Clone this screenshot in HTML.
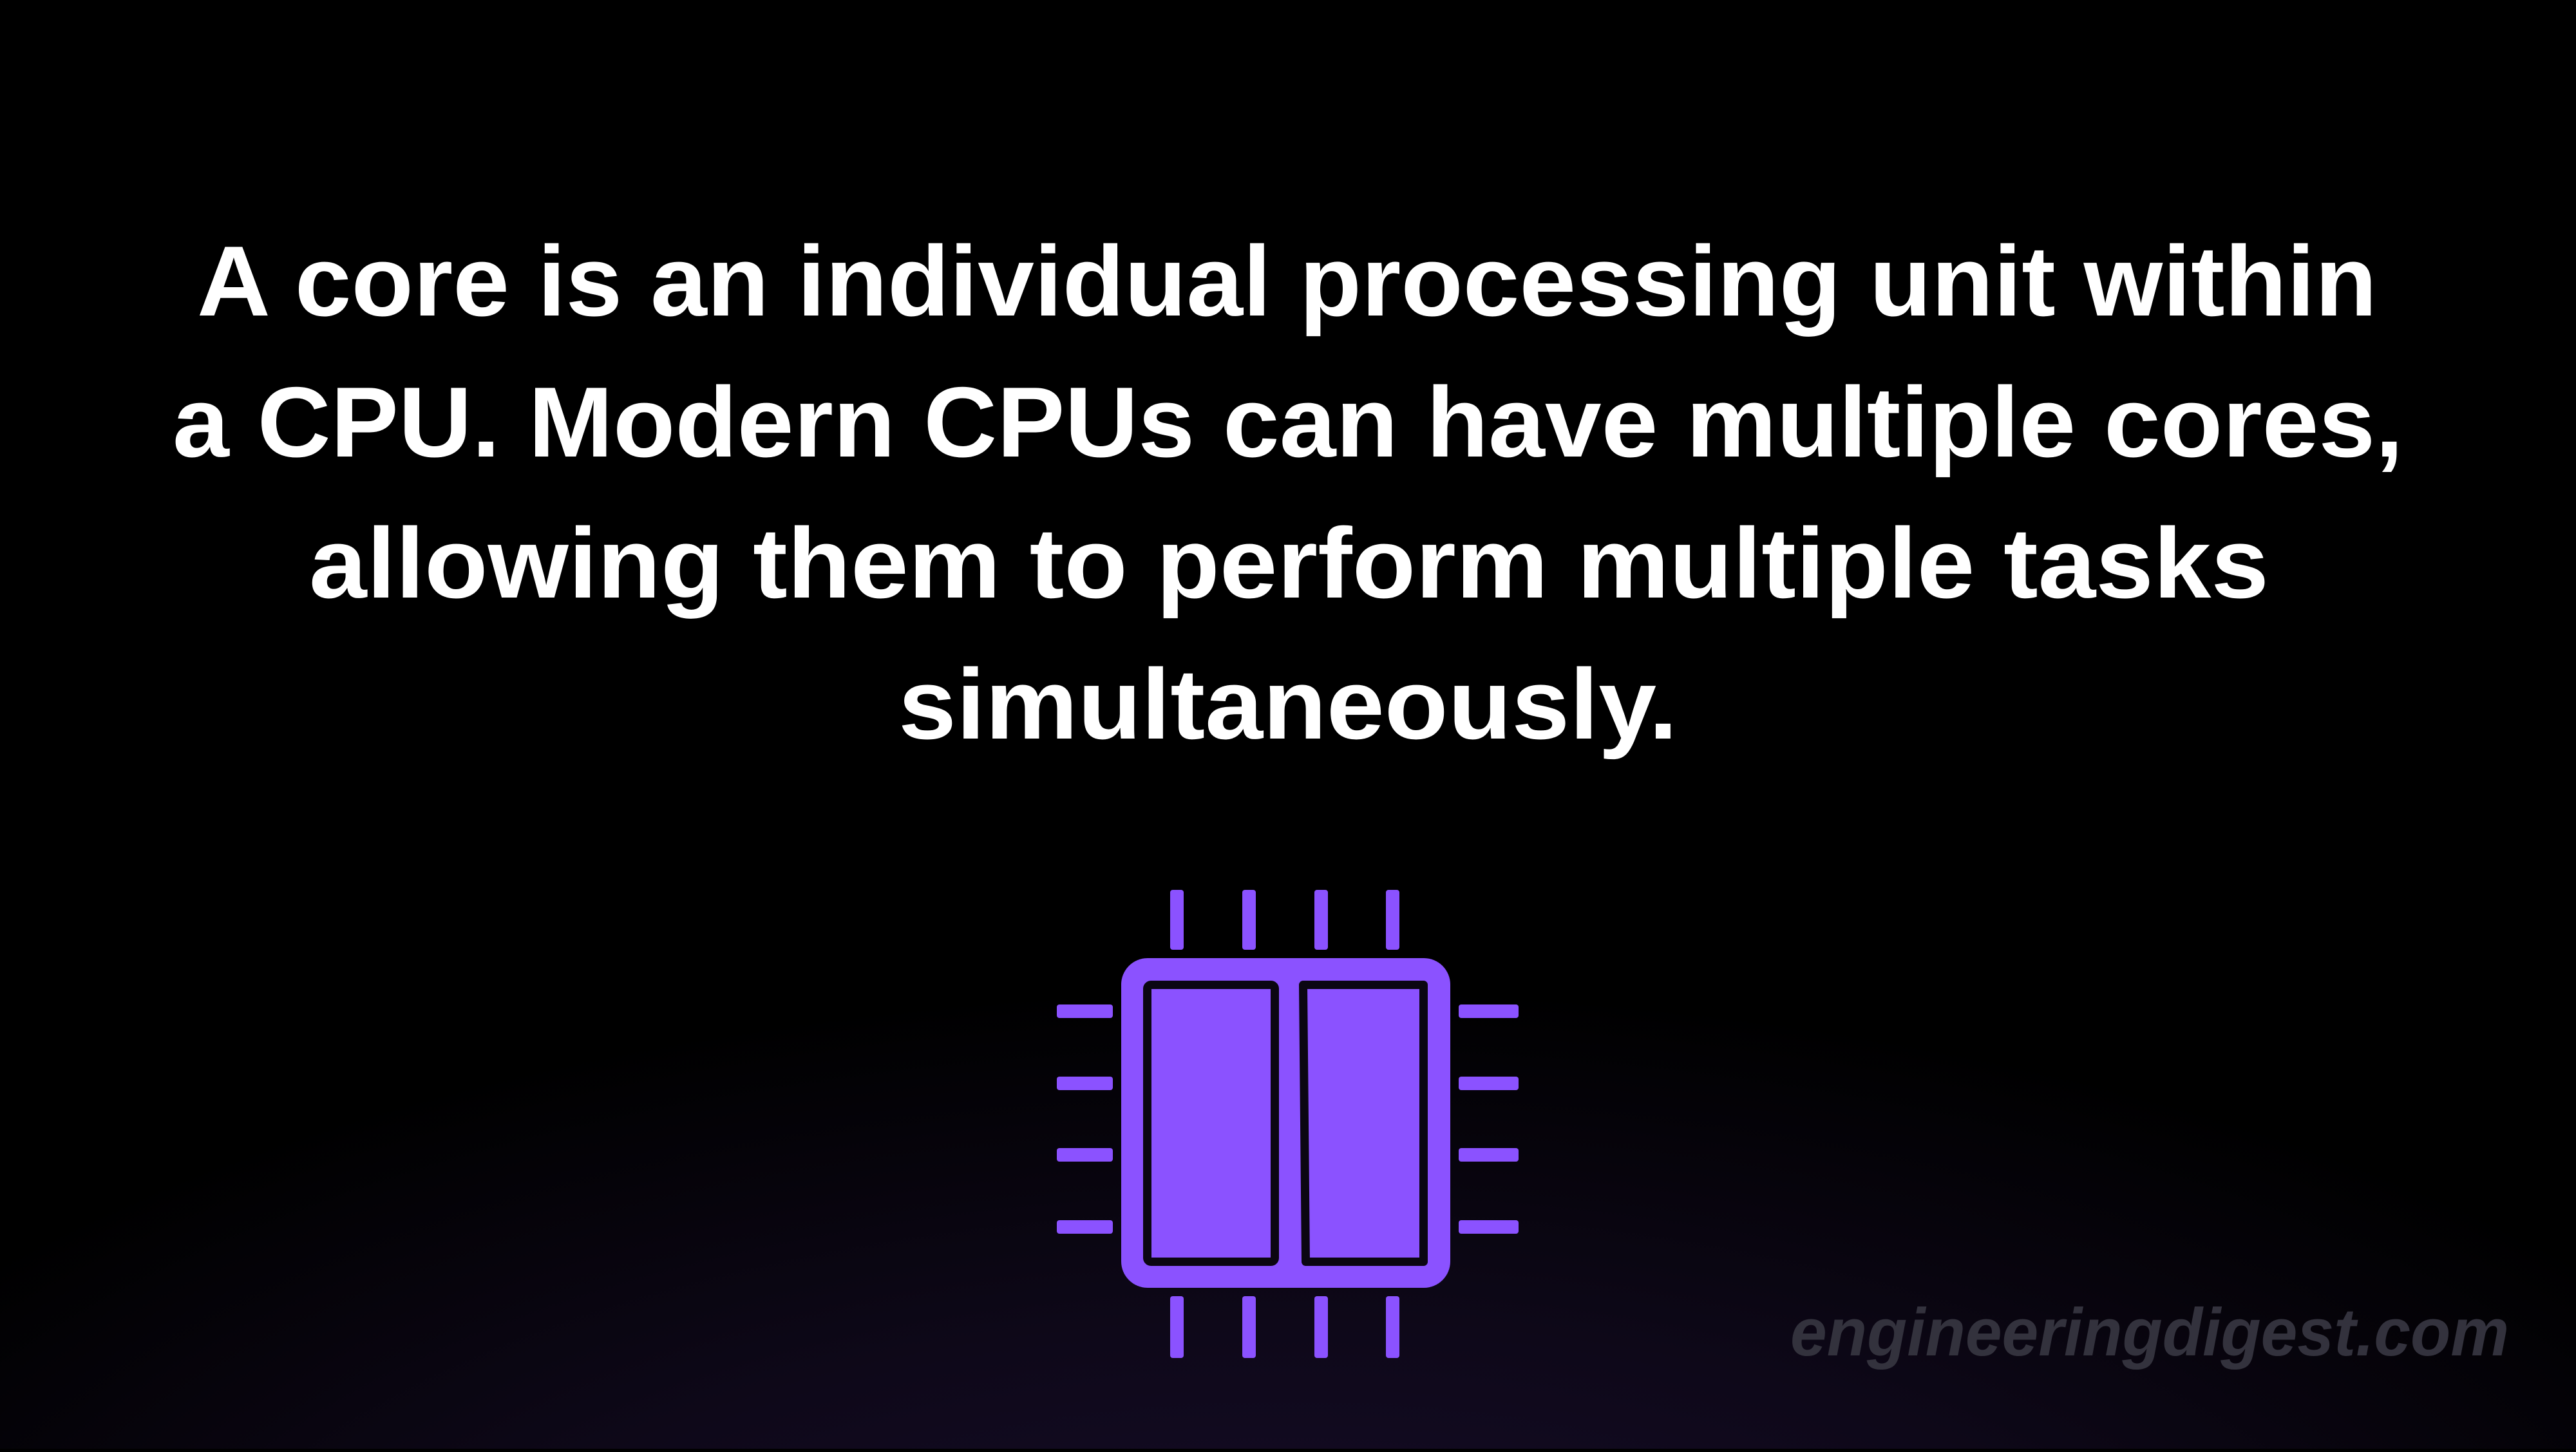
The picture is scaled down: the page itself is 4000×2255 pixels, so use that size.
<!DOCTYPE html>
<html><head><meta charset="utf-8"><style>
html,body{margin:0;padding:0;background:#000}
body{width:4000px;height:2250px;overflow:hidden}
</style></head><body>
<svg width="4000" height="2250" viewBox="0 0 4000 2250" xmlns="http://www.w3.org/2000/svg">
<defs>
<radialGradient id="g" cx="2000" cy="2700" r="2600" gradientUnits="userSpaceOnUse" gradientTransform="translate(2000 2700) scale(1 0.45) translate(-2000 -2700)">
<stop offset="0" stop-color="#1a0f30"/>
<stop offset="0.55" stop-color="#0e0819"/>
<stop offset="1" stop-color="#000"/>
</radialGradient>
</defs>
<rect width="4000" height="2250" fill="#000"/>
<rect width="4000" height="2250" fill="url(#g)"/>
<g fill="#fff" font-family="Liberation Sans, sans-serif" font-weight="bold" font-size="155">
<text x="306" y="490" textLength="3385" lengthAdjust="spacingAndGlyphs">A core is an individual processing unit within</text>
<text x="268" y="709" textLength="3464" lengthAdjust="spacingAndGlyphs">a CPU. Modern CPUs can have multiple cores,</text>
<text x="480" y="928" textLength="3043" lengthAdjust="spacingAndGlyphs">allowing them to perform multiple tasks</text>
<text x="1395" y="1147" textLength="1210" lengthAdjust="spacingAndGlyphs">simultaneously.</text>
</g>
<g fill="#8b52ff">
<rect x="1741" y="1488" width="511" height="512" rx="41"/>
<rect x="1817" y="1382" width="21" height="93" rx="4"/>
<rect x="1929" y="1382" width="21" height="93" rx="4"/>
<rect x="2041" y="1382" width="21" height="93" rx="4"/>
<rect x="2152" y="1382" width="21" height="93" rx="4"/>
<rect x="1817" y="2013" width="21" height="96" rx="4"/>
<rect x="1929" y="2013" width="21" height="96" rx="4"/>
<rect x="2041" y="2013" width="21" height="96" rx="4"/>
<rect x="2152" y="2013" width="21" height="96" rx="4"/>
<rect x="1641" y="1560" width="87" height="21" rx="4"/>
<rect x="1641" y="1672" width="87" height="21" rx="4"/>
<rect x="1641" y="1783" width="87" height="21" rx="4"/>
<rect x="1641" y="1895" width="87" height="21" rx="4"/>
<rect x="2265" y="1560" width="93" height="21" rx="4"/>
<rect x="2265" y="1672" width="93" height="21" rx="4"/>
<rect x="2265" y="1783" width="93" height="21" rx="4"/>
<rect x="2265" y="1895" width="93" height="21" rx="4"/>
</g>
<g fill="#8b52ff" stroke="#0b0612" stroke-width="13" stroke-linejoin="round">
<rect x="1781.5" y="1529.5" width="198" height="430" rx="6"/>
<path d="M2023.5 1529.5 L2210.5 1529.5 L2210.5 1959.5 L2027.5 1959.5 Z"/>
</g>
<text x="2780" y="2105" textLength="1116" lengthAdjust="spacingAndGlyphs" fill="#33323d" font-family="Liberation Sans, sans-serif" font-weight="bold" font-style="italic" font-size="105">engineeringdigest.com</text>
</svg>
</body></html>
